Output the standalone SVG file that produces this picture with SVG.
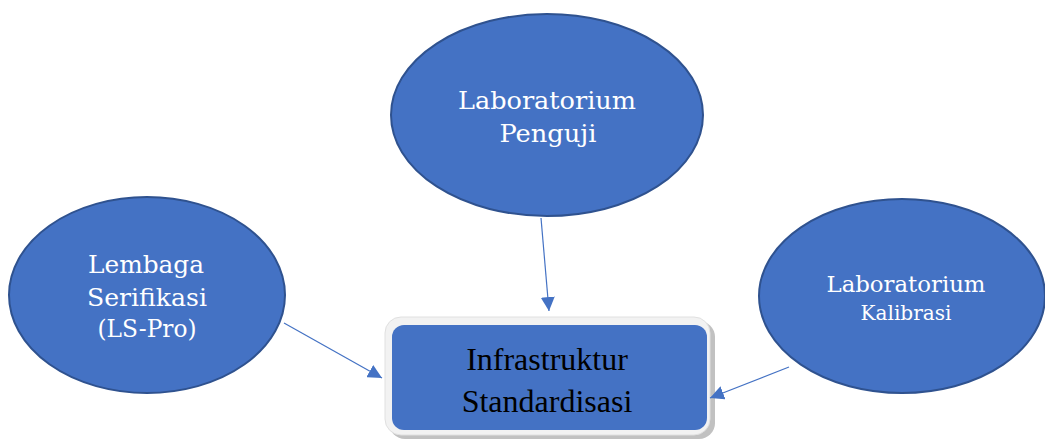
<svg xmlns="http://www.w3.org/2000/svg" width="1045" height="439" viewBox="0 0 1045 439">
<style>
.ell{fill:#4472C4;stroke:#2F528F;stroke-width:2}
.lt{font-family:"DejaVu Serif",serif;fill:#fff;text-anchor:middle;font-weight:300}
.bt{font-family:"Liberation Serif",serif;fill:#000;text-anchor:middle;font-size:32px}
.con{stroke:#4472C4;stroke-width:1.2;fill:none;marker-end:url(#ah)}
</style>
<defs>
<marker id="ah" viewBox="0 0 10 10" refX="10" refY="5" markerWidth="14" markerHeight="14" markerUnits="userSpaceOnUse" orient="auto">
<path d="M0,0 L10,5 L0,10 Z" fill="#4472C4"/>
</marker>
</defs>
<rect width="1045" height="439" fill="#fff"/>
<g id="penguji">
<ellipse class="ell" cx="547" cy="115" rx="156" ry="101"/>
<text class="lt" x="547" y="109" font-size="25" textLength="178" lengthAdjust="spacingAndGlyphs">Laboratorium</text>
<text class="lt" x="548" y="142" font-size="25" textLength="97" lengthAdjust="spacingAndGlyphs">Penguji</text>
</g>
<g id="lspro">
<ellipse class="ell" cx="147" cy="295" rx="138" ry="98"/>
<text class="lt" x="146" y="273" font-size="25" textLength="116" lengthAdjust="spacingAndGlyphs">Lembaga</text>
<text class="lt" x="147" y="306" font-size="25" textLength="120" lengthAdjust="spacingAndGlyphs">Serifikasi</text>
<text class="lt" x="147" y="337" font-size="25" textLength="99" lengthAdjust="spacingAndGlyphs">(LS-Pro)</text>
</g>
<g id="kalibrasi">
<ellipse class="ell" cx="902" cy="296" rx="143" ry="97"/>
<text class="lt" x="906" y="292" font-size="22" textLength="159" lengthAdjust="spacingAndGlyphs">Laboratorium</text>
<text class="lt" x="906" y="320" font-size="21" textLength="91" lengthAdjust="spacingAndGlyphs">Kalibrasi</text>
</g>
<g id="infrastruktur">
<rect x="389" y="321" width="326" height="118" rx="16" fill="#a6a6a6" opacity="0.7"/>
<rect x="385" y="317" width="325" height="118" rx="16" fill="#f2f2f2" stroke="#e0e0e0" stroke-width="1"/>
<rect x="392" y="325" width="315" height="105" rx="12" fill="#4472C4"/>
<text class="bt" x="547" y="370">Infrastruktur</text>
<text class="bt" x="547" y="412">Standardisasi</text>
</g>
<g id="connectors">
<line class="con" x1="541" y1="218" x2="549" y2="311"/>
<line class="con" x1="284" y1="323" x2="382" y2="378"/>
<line class="con" x1="789" y1="367" x2="710" y2="398"/>
</g>
</svg>
